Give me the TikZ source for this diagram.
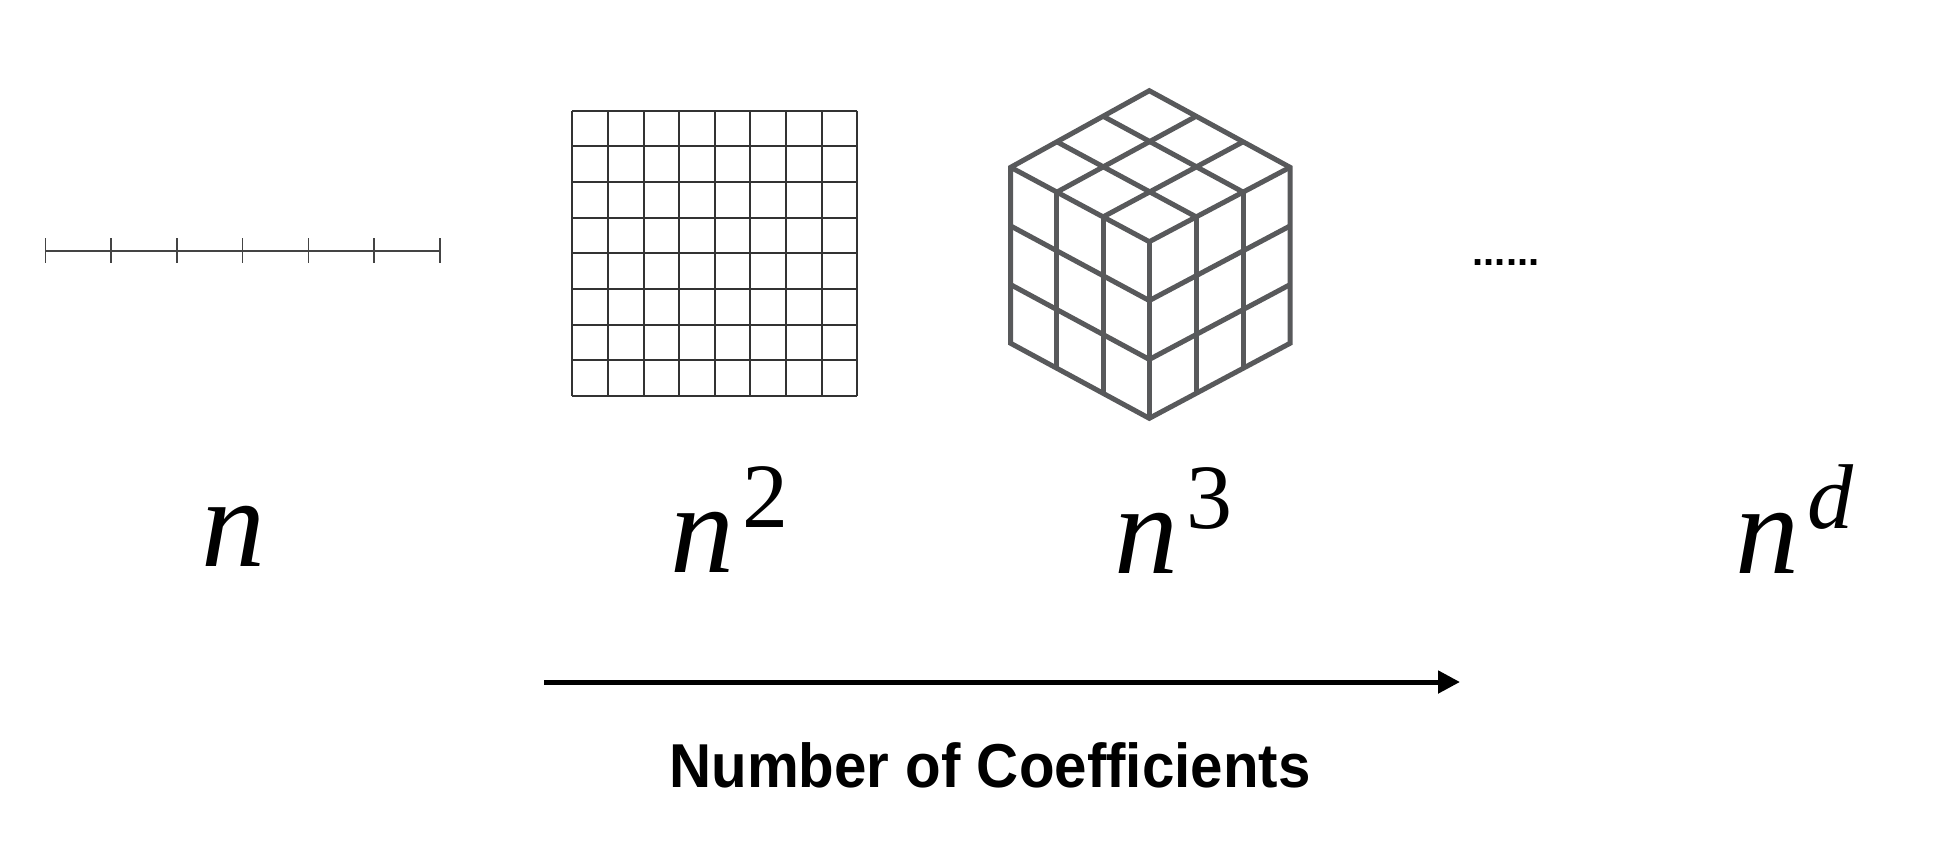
\documentclass[tikz,border=0pt]{standalone}
\usepackage{fontspec}
\setmainfont{Liberation Serif}
\setsansfont{Liberation Sans}
\usetikzlibrary{calc,arrows.meta}
\definecolor{cubegray}{HTML}{58595B}
\definecolor{gridgray}{HTML}{333333}
\definecolor{tickgray}{HTML}{444444}
\tikzset{
  tickline/.style={draw=tickgray, line width=0.8pt},
  gridline/.style={draw=gridgray, line width=1pt},
  cubeline/.style={draw=cubegray, line width=2.5pt},
  powlab/.style={anchor=base west, inner sep=0pt, outer sep=0pt, font=\fontsize{64}{64}\selectfont\itshape},
  axisarrow/.style={draw=black, line width=2.5pt, -{Triangle[length=11pt,width=11pt]}},
}
\newcommand{\supnum}[1]{\kern4pt\raisebox{22.5pt}{\fontsize{46}{46}\selectfont #1}}
\begin{document}
\begin{tikzpicture}[x=0.5pt,y=-0.5pt]
\fill[white] (0,0) rectangle (1940,848);
\useasboundingbox (0,0) rectangle (1940,848);

% 1D line
\coordinate (la) at (45.3,250.7);
\coordinate (lb) at (440,250.7);
\draw[tickline] (la) -- (lb);
\foreach \k in {0,...,6} {
  \coordinate (t\k a) at ({45.3+\k*65.78},238);
  \coordinate (t\k b) at ({45.3+\k*65.78},263);
  \draw[tickline] (t\k a) -- (t\k b);
}

% 2D grid
\foreach \i in {0,...,8} {
  \coordinate (gv\i a) at ({572.3+\i*35.625},110.7);
  \coordinate (gv\i b) at ({572.3+\i*35.625},396);
  \coordinate (gh\i a) at (572.3,{110.7+\i*35.66});
  \coordinate (gh\i b) at (857.3,{110.7+\i*35.66});
  \draw[gridline] (gv\i a) -- (gv\i b);
  \draw[gridline] (gh\i a) -- (gh\i b);
}

% 3D cube
\coordinate (T) at (1149.3,90.7);
\coordinate (L) at (1010.7,167.3);
\coordinate (C) at (1149.3,241.7);
\coordinate (R) at (1290,167.3);
\coordinate (BL) at (1010.7,343.3);
\coordinate (B) at (1149.3,418.3);
\coordinate (BR) at (1290,343.3);
\foreach \f in {0.3333,0.6667} {
  % top face
  \draw[cubeline] ($(T)!\f!(R)$) -- ($(L)!\f!(C)$);
  \draw[cubeline] ($(T)!\f!(L)$) -- ($(R)!\f!(C)$);
  % left face
  \draw[cubeline] ($(L)!\f!(C)$) -- ($(BL)!\f!(B)$);
  \draw[cubeline] ($(L)!\f!(BL)$) -- ($(C)!\f!(B)$);
  % right face
  \draw[cubeline] ($(C)!\f!(R)$) -- ($(B)!\f!(BR)$);
  \draw[cubeline] ($(C)!\f!(B)$) -- ($(R)!\f!(BR)$);
}
\draw[cubeline] (T) -- (L) -- (BL) -- (B) -- (BR) -- (R) -- cycle;
\draw[cubeline] (L) -- (C) -- (R);
\draw[cubeline] (C) -- (B);

% dots
\node[anchor=base, inner sep=0pt, font=\sffamily\bfseries\fontsize{20}{20}\selectfont] (dots) at (1506,265) {......};

% labels
\node[powlab] (p1) at (201,566) {n};
\node[powlab] (p2) at (670,572) {n\supnum{\upshape 2}};
\node[powlab] (p3) at (1114,573) {n\supnum{\upshape 3}};
\node[powlab] (pd) at (1735,573) {n\supnum{d}};

% axis arrow
\coordinate (a0) at (544,682);
\coordinate (a1) at (1460,682);
\draw[axisarrow] (a0) -- (a1);

\node[anchor=base, inner sep=0pt] (title) at (990,787)
  {\scalebox{0.94}[1]{\sffamily\bfseries\fontsize{31}{31}\selectfont Number of Coefficients}};
\end{tikzpicture}
\end{document}
